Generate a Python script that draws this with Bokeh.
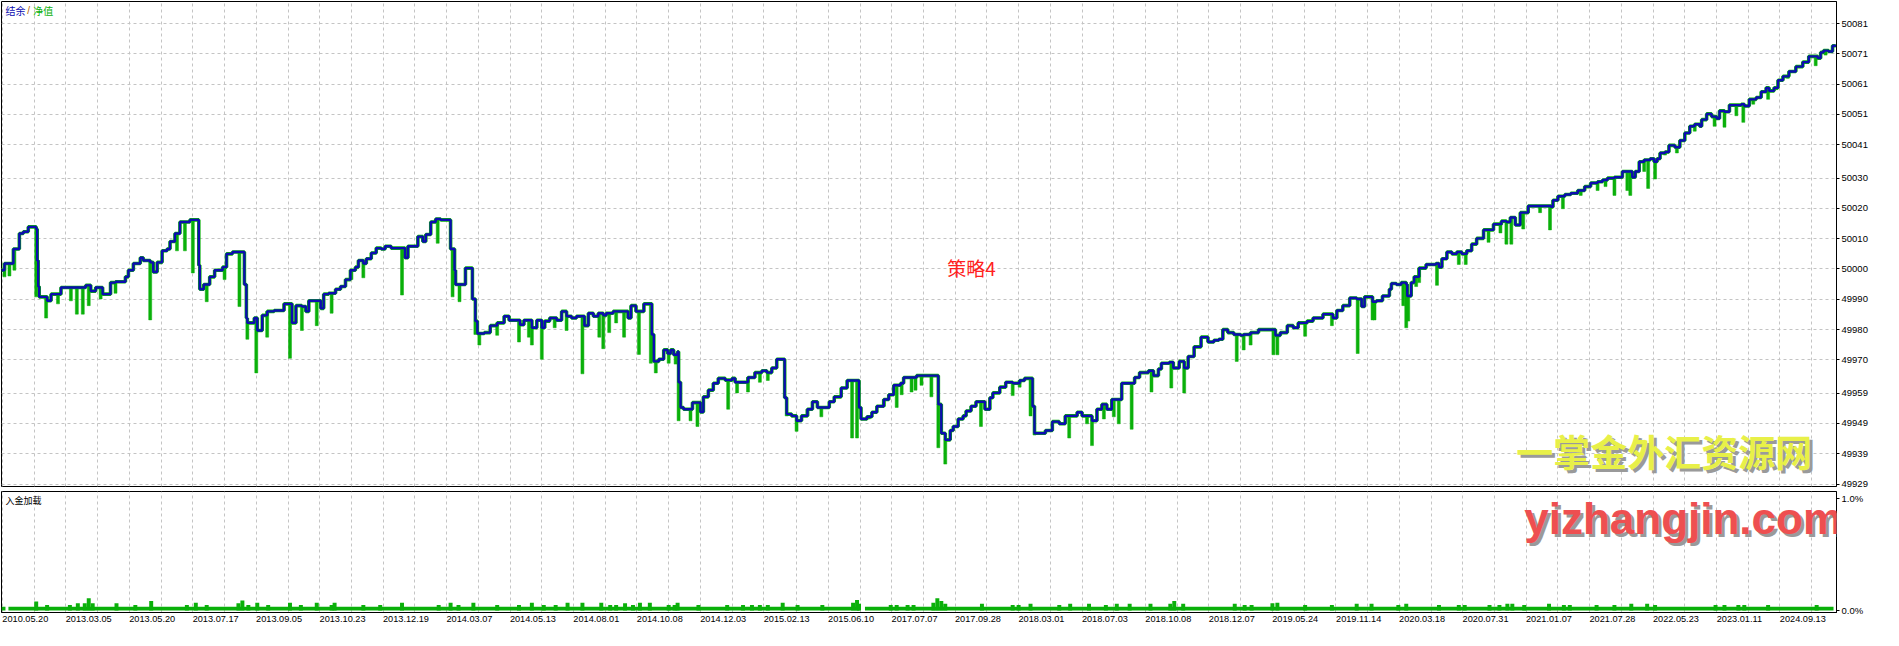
import numpy as np
from bokeh.plotting import figure
from bokeh.models import Range1d, FixedTicker, Label
from bokeh.layouts import column
from bokeh.embed import file_html
from bokeh.resources import INLINE

# ---------------- data ----------------
date_labels = ["2010.05.20", "2013.03.05", "2013.05.20", "2013.07.17", "2013.09.05", "2013.10.23",
               "2013.12.19", "2014.03.07", "2014.05.13", "2014.08.01", "2014.10.08", "2014.12.03",
               "2015.02.13", "2015.06.10", "2017.07.07", "2017.09.28", "2018.03.01", "2018.07.03",
               "2018.10.08", "2018.12.07", "2019.05.24", "2019.11.14", "2020.03.18", "2020.07.31",
               "2021.01.07", "2021.07.28", "2022.05.23", "2023.01.11", "2024.09.13"]
y_tick_labels = ["49929", "49939", "49949", "49959", "49970", "49980", "49990", "50000",
                 "50010", "50020", "50030", "50041", "50051", "50061", "50071", "50081"]
load_tick_labels = ["0.0%", "1.0%"]

# balance (step) : trade number, value
bal_x = [0, 3, 12, 18, 22, 27, 35, 36, 37, 38, 46, 50, 60, 85, 90, 95, 102, 110, 115, 125, 128, 133, 140, 143,
         150, 153, 157, 162, 167, 170, 175, 180, 190, 199, 200, 204, 210, 215, 223, 227, 233, 245, 247, 248,
         255, 258, 263, 268, 275, 285, 293, 297, 303, 307, 310, 322, 325, 330, 337, 342, 347, 352, 357, 360,
         365, 368, 373, 378, 383, 387, 393, 407, 410, 420, 425, 428, 433, 438, 443, 453, 457, 458, 468, 475,
         478,
         480, 487, 493, 500, 507, 512, 523, 527, 535, 540, 545, 548, 553, 560, 565, 570, 575, 580, 588, 592,
         597, 602, 607, 610, 617, 632, 635, 640, 648, 656, 658, 663, 668, 672, 675, 678, 682, 683, 685, 688,
         697, 705, 708, 713, 718, 723, 730, 737, 740, 753, 760, 767, 772, 777, 782, 790, 792, 797, 802, 807,
         813, 818, 823, 835, 840, 847, 853, 865, 867, 873, 878, 883, 890, 895, 900, 907, 910, 923,
         945, 948, 952, 957, 960, 965, 970, 973, 978, 983, 992, 997, 1000, 1007, 1013, 1020, 1027, 1032,
         1040, 1042, 1053, 1060, 1067, 1073, 1085, 1090, 1100, 1105, 1110, 1115, 1120, 1130, 1143, 1148,
         1157, 1162, 1167, 1170, 1178, 1182, 1188, 1193, 1197, 1203, 1210, 1217, 1223, 1228, 1232, 1237,
         1243, 1250, 1253, 1260, 1268, 1285, 1290, 1297, 1303, 1308, 1317, 1323, 1333, 1343, 1347, 1353,
         1360, 1367, 1372, 1375, 1383, 1387, 1393, 1400,
         1402, 1407, 1412, 1417, 1418, 1422, 1425, 1430, 1437, 1447, 1450, 1453, 1458, 1463, 1468, 1473,
         1478, 1483, 1488, 1495, 1505, 1513, 1518, 1522, 1527, 1532, 1540, 1563, 1565, 1570, 1577, 1583,
         1590, 1597, 1603, 1610, 1615, 1620, 1627, 1635, 1645, 1648, 1652, 1657, 1663, 1667, 1670, 1673,
         1678, 1682, 1688, 1693, 1698, 1703, 1708, 1713, 1715, 1720, 1725, 1730, 1733, 1738, 1743, 1755,
         1758, 1763, 1770, 1775, 1780, 1783, 1788, 1792, 1797, 1803, 1810, 1817, 1823, 1832, 1835, 1838,
         1843, 1847, 1850]
bal_v = [49999.6, 50001.8, 50006.6, 50011.7, 50012.3, 50013.9, 50013.2, 50002.8, 49994.2, 49990.8, 49989.5,
         49991.7, 49993.9, 49994.6, 49992.7, 49993.9, 49991.7, 49995.5, 49995.8, 49997.4, 49999.6, 50001.8,
         50003.7, 50002.8, 50002.2, 49999.0, 50002.2, 50006.0, 50006.6, 50009.1, 50011.7, 50015.5, 50016.2,
         50001.2, 49993.3, 49994.9, 49997.4, 49999.6, 50000.6, 50005.0, 50005.6, 49994.9, 49983.8, 49982.2,
         49983.8, 49979.7, 49984.7, 49986.0, 49986.3, 49988.5, 49982.2, 49987.9, 49987.6, 49986.0, 49989.5,
         49987.0, 49991.7, 49992.0, 49993.3, 49994.2, 49996.5, 49999.6, 50000.6, 50002.8, 50001.8, 50003.4,
         50005.3, 50006.9, 50006.6, 50007.5, 50006.9, 50003.7, 50007.5, 50010.7, 50009.1, 50011.4, 50015.5,
         50016.5, 50016.2, 50006.6, 49999.6, 49994.9, 50000.3, 49990.1, 49982.8,
         49978.7, 49979.0, 49981.3, 49982.2, 49984.4, 49983.1, 49981.6, 49983.1, 49980.6, 49983.1, 49980.6,
         49982.8, 49983.8, 49983.1, 49986.0, 49984.4, 49983.8, 49984.4, 49981.3, 49985.4, 49984.4, 49985.4,
         49984.7, 49985.4, 49986.0, 49983.8, 49987.9, 49986.0, 49988.5, 49978.4, 49969.5, 49970.2, 49973.3,
         49972.1, 49973.3, 49971.7, 49972.7, 49962.6, 49954.3, 49953.7, 49955.9, 49952.8, 49957.8, 49960.0,
         49962.3, 49963.9, 49963.3, 49963.9, 49962.6, 49964.2, 49965.8, 49966.4, 49965.8, 49967.3, 49970.2,
         49957.5, 49952.1, 49951.5, 49949.9, 49951.5, 49953.7, 49956.2, 49954.3, 49956.2, 49957.8, 49960.7,
         49963.2, 49954.3, 49950.5, 49951.2, 49952.7, 49954.7, 49956.9, 49958.5, 49961.6, 49962.3, 49964.2,
         49964.8,
         49955.3, 49945.8, 49943.6, 49946.7, 49948.0, 49950.5, 49951.5, 49953.1, 49954.7, 49956.2, 49953.7,
         49957.5, 49959.1, 49961.0, 49962.6, 49962.3, 49963.2, 49963.9, 49954.7, 49945.8, 49946.7, 49949.6,
         49948.9, 49951.5, 49952.7, 49951.5, 49949.9, 49953.7, 49955.3, 49953.7, 49956.9, 49962.3, 49964.2,
         49965.8, 49966.4, 49964.8, 49967.0, 49968.9, 49969.2, 49967.3, 49969.5, 49967.3, 49971.1, 49974.3,
         49977.5, 49975.9, 49976.5, 49976.8, 49980.0, 49979.0, 49978.4, 49978.1, 49978.4, 49979.0, 49980.0,
         49978.1, 49979.0, 49981.3, 49980.6, 49982.2, 49982.8, 49983.8, 49985.1, 49983.8, 49986.3, 49987.9,
         49990.4, 49990.1, 49987.6, 49990.8, 49989.2, 49989.5, 49991.1, 49993.3,
         49995.2, 49994.9, 49995.5, 49994.9, 49991.1, 49995.5, 49997.4, 50000.3, 50001.5, 50001.8, 50000.6,
         50003.4, 50005.6, 50005.0, 50005.6, 50005.0, 50006.0, 50008.2, 50010.1, 50012.9, 50014.8, 50015.8,
         50015.5, 50017.0, 50014.5, 50018.6, 50020.8, 50020.5, 50022.7, 50024.0, 50024.6, 50025.0, 50025.9,
         50027.2, 50028.4, 50028.8, 50029.4, 50030.0, 50030.3, 50032.2, 50030.3, 50032.2, 50035.4, 50036.0,
         50036.4, 50035.4, 50036.4, 50038.3, 50038.6, 50040.8, 50040.2, 50042.4, 50044.9, 50047.1, 50047.8,
         50047.1, 50049.3, 50051.2, 50050.3, 50049.7, 50052.2, 50051.9, 50054.1, 50054.4, 50053.8, 50056.0,
         50056.6, 50058.5, 50059.8, 50058.8, 50059.8, 50062.3, 50063.6, 50065.2, 50066.8, 50068.3, 50070.2,
         50069.6, 50071.5, 50072.1, 50071.8, 50073.7, 50074.0]

# equity drawdown lows : trade number, value
dip_x = [3, 8, 13, 35, 45, 57, 70, 76, 82, 88, 100, 115, 150, 177, 185, 193, 207, 225, 240, 248, 257, 268,
         291, 303, 318, 333, 353, 365, 404, 440, 455, 462, 478,
         482, 500, 522, 532, 535, 545, 558, 570, 586, 603, 607, 613, 620, 628, 643, 655, 660, 673, 680, 683,
         695, 702, 733, 742, 753, 765, 773, 792, 802, 813, 827, 858, 863, 875, 890, 903, 908, 918, 922, 928,
         938,
         945, 952, 988, 1020, 1027, 1038, 1042, 1077, 1095, 1100, 1112, 1122, 1127, 1140, 1160, 1180, 1193,
         1246, 1253, 1260, 1283, 1287, 1315, 1342, 1368, 1383, 1385,
         1414, 1417, 1419, 1427, 1430, 1448, 1470, 1477, 1500, 1512, 1518, 1523, 1535, 1552, 1562, 1575,
         1593, 1610, 1618, 1627, 1640, 1643, 1657, 1661, 1668, 1678, 1690, 1708, 1728, 1738, 1750, 1757,
         1767, 1782, 1790, 1802, 1830, 1840]
dip_v = [49997.4, 49997.7, 49999.6, 49990.8, 49983.8, 49988.5, 49989.5, 49985.1, 49985.1, 49987.9, 49990.1,
         49992.0, 49983.2, 50006.0, 50006.0, 49998.7, 49989.2, 49996.5, 49987.6, 49976.8, 49965.7, 49977.5,
         49970.5, 49979.7, 49981.3, 49985.4, 49996.5, 49997.1, 49991.4, 50008.5, 49990.8, 49989.2, 49978.4,
         49974.9, 49978.1, 49975.9, 49977.5, 49974.9, 49970.2, 49980.6, 49979.7, 49965.4, 49977.5, 49973.7,
         49979.0, 49982.2, 49977.5, 49971.8, 49968.9, 49965.7, 49968.9, 49968.6, 49949.9, 49949.9, 49948.0,
         49953.7, 49959.1, 49959.4, 49962.6, 49963.2, 49951.5, 49946.4, 49951.5, 49951.2, 49944.2, 49944.2,
         49950.5, 49954.7, 49954.3, 49958.5, 49959.4, 49960.0, 49961.6, 49957.8,
         49941.0, 49935.6, 49948.0, 49958.2, 49961.0, 49951.5, 49945.2, 49944.2, 49948.9, 49941.7, 49950.5,
         49951.2, 49948.9, 49947.1, 49959.4, 49960.7, 49959.1, 49969.5, 49973.3, 49974.9, 49971.7, 49971.7,
         49977.8, 49981.3, 49972.1, 49983.2, 49983.2,
         49987.9, 49980.6, 49982.8, 49994.2, 49995.5, 49994.6, 50001.5, 50001.5, 50008.8, 50011.9, 50008.2,
         50008.2, 50013.2, 50018.6, 50012.9, 50019.9, 50024.3, 50025.9, 50027.2, 50024.3, 50025.9, 50024.3,
         50032.2, 50026.6, 50029.7, 50037.6, 50038.3, 50045.5, 50047.1, 50046.8, 50050.6, 50048.4, 50054.4,
         50056.0, 50059.2, 50063.0, 50067.1, 50070.6]

# deposit load (%) : baseline level and peaks
load_base_start = [0, 7, 871]
load_base_end = [4, 866, 1848]
load_base_level = 0.035
load_x = [35, 46, 69, 77, 84, 88, 92, 116, 135, 151, 187, 196, 207, 239, 243, 249, 258, 269, 291, 302, 318,
          333, 336, 365, 382, 404, 441, 453, 461, 476, 500, 522, 535, 547, 559, 571, 586, 605, 614, 620, 629,
          637, 644, 654, 673, 679, 682, 703, 732, 748, 757, 765, 773, 788, 803, 828, 859, 863, 865, 897, 903,
          914, 920, 940, 944, 948, 952, 989, 1020, 1026, 1038, 1067, 1078, 1097, 1114, 1125, 1138, 1159, 1179,
          1183, 1192, 1244, 1254, 1261, 1282, 1287, 1315, 1342, 1367, 1382, 1409, 1417, 1450, 1470, 1476,
          1501, 1511, 1519, 1524, 1536, 1561, 1576, 1582, 1609, 1627, 1644, 1660, 1668, 1729, 1738, 1752,
          1758, 1782, 1831]
load_v = [0.08, 0.05, 0.05, 0.065, 0.065, 0.11, 0.065, 0.065, 0.05, 0.085, 0.05, 0.07, 0.05, 0.065, 0.09,
          0.05, 0.07, 0.05, 0.07, 0.05, 0.07, 0.05, 0.07, 0.05, 0.05, 0.07, 0.05, 0.07, 0.05, 0.07, 0.05,
          0.05, 0.07, 0.05, 0.05, 0.07, 0.07, 0.07, 0.05, 0.05, 0.065, 0.05, 0.07, 0.07, 0.05, 0.05, 0.07,
          0.05, 0.05, 0.05, 0.05, 0.05, 0.05, 0.07, 0.05, 0.05, 0.07, 0.095, 0.06, 0.05, 0.05, 0.05, 0.05,
          0.07, 0.11, 0.085, 0.06, 0.06, 0.05, 0.05, 0.06, 0.05, 0.06, 0.06, 0.05, 0.06, 0.06, 0.06, 0.06,
          0.085, 0.06, 0.06, 0.05, 0.05, 0.065, 0.07, 0.05, 0.05, 0.06, 0.06, 0.05, 0.06, 0.05, 0.05, 0.05,
          0.05, 0.05, 0.06, 0.06, 0.05, 0.06, 0.05, 0.05, 0.05, 0.05, 0.06, 0.06, 0.05, 0.05, 0.05, 0.05,
          0.05, 0.05, 0.05]

# ---------------- style ----------------
BLUE = "#0C0CB0"
GREEN = "#0AB00A"
GRID = "#C4C4C4"
AXIS_FONT = "Liberation Sans"
CJK = "Noto Sans CJK SC"

X_MAX = 1851
x_range = Range1d(0, X_MAX)
grid_ticks = [int(round(1 + 32.02 * j)) for j in range(58)]
# date labels start at every other grid line (text is left-aligned there)
label_ticks = [grid_ticks[2 * k] + 23 for k in range(len(date_labels))]
x_overrides = {t: lab for t, lab in zip(label_ticks, date_labels)}

y_ticks = [int(s) for s in y_tick_labels]

# ---------------- main panel ----------------
p = figure(width=1883, height=491, x_range=x_range, y_range=Range1d(49928.2, 50088.3),
           output_backend="svg", toolbar_location=None, y_axis_location="right",
           min_border_left=1, min_border_right=47, min_border_top=1, min_border_bottom=5)
p.xaxis.visible = False
p.xgrid.ticker = FixedTicker(ticks=grid_ticks)
p.yaxis.ticker = FixedTicker(ticks=y_ticks)
p.yaxis.major_label_overrides = {int(s): s for s in y_tick_labels}
for g in (p.xgrid, p.ygrid):
    g.grid_line_color = GRID
    g.grid_line_dash = "3 3"
    g.grid_line_width = 1
p.yaxis.axis_line_color = "black"
p.yaxis.major_tick_out = 3
p.yaxis.major_tick_in = 0
p.yaxis.minor_tick_line_color = None
p.yaxis.major_label_standoff = 2
p.yaxis.major_label_text_font = AXIS_FONT
p.yaxis.major_label_text_font_size = "9.5px"
p.yaxis.major_label_text_color = "black"
p.outline_line_color = "black"
p.outline_line_width = 1
p.background_fill_color = "white"
p.border_fill_color = "white"

bx = np.array(bal_x)
bv = np.array(bal_v)
dx = np.array(dip_x)
idx = np.searchsorted(bx, dx, side="right") - 1
dip_top = bv[idx]

p.step(bal_x, bal_v, mode="after", line_color=GREEN, line_width=3.6)
p.vbar(x=dip_x, width=3, top=dip_top, bottom=dip_v, fill_color=GREEN, line_color=GREEN, line_width=0.5)
p.step(bal_x, bal_v, mode="after", line_color=BLUE, line_width=2.4)

# legend text
p.add_layout(Label(x=4, y=50085.4, text="结余", text_font=CJK, text_font_size="10px",
                   text_color=BLUE, text_baseline="middle"))
p.add_layout(Label(x=26, y=50085.4, text="/", text_font=AXIS_FONT, text_font_size="10px",
                   text_color="#B06000", text_baseline="middle"))
p.add_layout(Label(x=32, y=50085.4, text="净值", text_font=CJK, text_font_size="10px",
                   text_color=GREEN, text_baseline="middle"))
# title
p.add_layout(Label(x=954, y=50000.6, text="策略4", text_font=CJK, text_font_size="19px",
                   text_color="#FF2020", text_baseline="middle"))
# watermark (yellow)
p.add_layout(Label(x=1528, y=49940.0, x_offset=3, y_offset=-3, text="一掌金外汇资源网", text_font=CJK,
                   text_font_size="37px", text_font_style="bold", text_color="#9A9A9A",
                   text_baseline="middle"))
p.add_layout(Label(x=1528, y=49940.0, text="一掌金外汇资源网", text_font=CJK,
                   text_font_size="37px", text_font_style="bold", text_color="#E8F048",
                   text_baseline="middle"))

# ---------------- lower panel ----------------
q = figure(width=1883, height=139, x_range=x_range, y_range=Range1d(-0.017, 1.061),
           output_backend="svg", toolbar_location=None, y_axis_location="right",
           min_border_left=1, min_border_right=47, min_border_top=0, min_border_bottom=18)
q.xaxis.ticker = FixedTicker(ticks=label_ticks)
q.xaxis.major_label_overrides = x_overrides
q.xaxis.major_label_text_font = AXIS_FONT
q.xaxis.major_label_text_font_size = "9.2px"
q.xaxis.major_label_text_color = "black"
q.xaxis.major_label_standoff = 3
q.xaxis.major_tick_out = 0
q.xaxis.major_tick_in = 0
q.xaxis.minor_tick_line_color = None
q.xaxis.axis_line_color = "black"
q.xgrid.ticker = FixedTicker(ticks=grid_ticks)
q.xgrid.grid_line_color = GRID
q.xgrid.grid_line_dash = "3 3"
q.ygrid.visible = False
q.yaxis.ticker = FixedTicker(ticks=[0, 1])
q.yaxis.major_label_overrides = {0: load_tick_labels[0], 1: load_tick_labels[1]}
q.yaxis.axis_line_color = "black"
q.yaxis.major_tick_out = 3
q.yaxis.major_tick_in = 0
q.yaxis.minor_tick_line_color = None
q.yaxis.major_label_standoff = 2
q.yaxis.major_label_text_font = AXIS_FONT
q.yaxis.major_label_text_font_size = "9.5px"
q.yaxis.major_label_text_color = "black"
q.outline_line_color = "black"
q.outline_line_width = 1

q.quad(left=load_base_start, right=load_base_end, bottom=0, top=load_base_level,
       fill_color=GREEN, line_color=None)
q.vbar(x=load_x, width=4, bottom=0, top=load_v, fill_color=GREEN, line_color=None)

q.add_layout(Label(x=4, y=0.983, text="入金加载", text_font=CJK, text_font_size="9px",
                   text_color="black", text_baseline="middle"))
q.add_layout(Label(x=1536, y=0.60, x_offset=3, y_offset=-3, text="yizhangjin.com", text_font=AXIS_FONT,
                   text_font_size="44px", text_font_style="bold", text_color="#9A9A9A"))
q.add_layout(Label(x=1536, y=0.60, text="yizhangjin.com", text_font=AXIS_FONT,
                   text_font_size="44px", text_font_style="bold", text_color="#EE4F50"))

layout = column(p, q, spacing=0)
open("out.html", "w").write(file_html(layout, INLINE))
